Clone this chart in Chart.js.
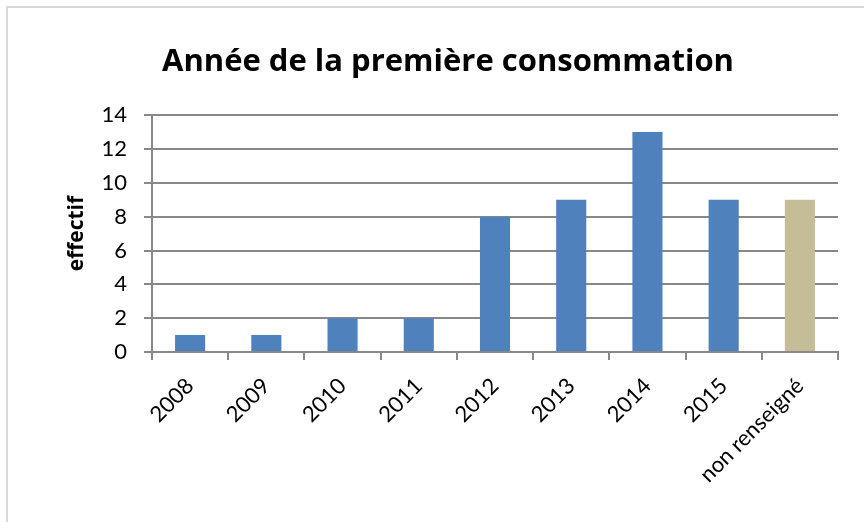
<!DOCTYPE html>
<html>
<head>
<meta charset="utf-8">
<script src="https://cdn.jsdelivr.net/npm/chart.js@4"></script>
<style>
  html, body { margin: 0; padding: 0; background: #fff; }
  #wrap { position: relative; width: 864px; height: 522px; }
</style>
</head>
<body>
<div id="wrap"><canvas id="c" width="864" height="522"></canvas></div>
<script>
const chartTitle = "Année de la première consommation";
const yAxisTitle = "effectif";
const categories = ["2008", "2009", "2010", "2011", "2012", "2013", "2014", "2015", "non renseigné"];
const values = [1, 1, 2, 2, 8, 9, 13, 9, 9];
const barColors = ["#4f81bd", "#4f81bd", "#4f81bd", "#4f81bd", "#4f81bd", "#4f81bd", "#4f81bd", "#4f81bd", "#c4bd97"];
const yMin = 0, yMax = 14, yStep = 2;

const FONT = "Lato, 'Open Sans', sans-serif";
const BOLDFONT = "'Open Sans', Lato, sans-serif";
const GRID = "#888888";

const frame = {
  id: 'frame',
  beforeDraw(chart) {
    const ctx = chart.ctx;
    ctx.save();
    ctx.fillStyle = '#ffffff';
    ctx.fillRect(0, 0, chart.width, chart.height);
    ctx.strokeStyle = '#d9d9d9';
    ctx.lineWidth = 2;
    ctx.beginPath();
    ctx.moveTo(7, chart.height);
    ctx.lineTo(7, 7);
    ctx.lineTo(chart.width, 7);
    ctx.stroke();
    ctx.restore();
  }
};

new Chart(document.getElementById('c'), {
  type: 'bar',
  data: {
    labels: categories,
    datasets: [{
      data: values,
      backgroundColor: barColors,
      borderColor: barColors,
      borderWidth: 0,
      categoryPercentage: 1,
      barPercentage: 0.395
    }]
  },
  plugins: [frame],
  options: {
    responsive: false,
    animation: false,
    layout: { padding: { left: 32, right: 0, top: 0, bottom: 0 } },
    plugins: {
      legend: { display: false },
      tooltip: { enabled: false },
      title: {
        display: true,
        text: chartTitle,
        color: '#000',
        font: { family: BOLDFONT, size: 31, weight: 'bold', lineHeight: 1.2 },
        padding: { top: 44, bottom: 34 }
      }
    },
    scales: {
      x: {
        afterFit(scale) { scale.height = 170; },
        grid: {
          display: true,
          drawOnChartArea: false,
          drawTicks: true,
          tickLength: 8,
          color: GRID,
          lineWidth: 2,
          offset: true
        },
        border: { display: true, color: GRID, width: 2 },
        ticks: {
          color: '#000',
          font: { family: FONT, size: 22 },
          minRotation: 45,
          maxRotation: 45,
          autoSkip: false,
          padding: 13
        }
      },
      y: {
        min: yMin,
        max: yMax,
        afterFit(scale) { scale.width = 120; },
        grid: {
          color: GRID,
          lineWidth: 2,
          drawTicks: true,
          tickLength: 8
        },
        border: { display: true, color: GRID, width: 2 },
        ticks: {
          stepSize: yStep,
          color: '#000',
          font: { family: FONT, size: 22 },
          padding: 17
        },
        title: {
          display: true,
          text: yAxisTitle,
          color: '#000',
          font: { family: BOLDFONT, size: 21, weight: 'bold', lineHeight: 1.2 },
          padding: { top: 32, bottom: 0 }
        }
      },
      yRightSpace: {
        type: 'linear',
        position: 'right',
        min: yMin,
        max: yMax,
        afterFit(scale) { scale.width = 26; },
        grid: { drawOnChartArea: false, drawTicks: false },
        border: { display: false },
        ticks: { display: false }
      }
    }
  }
});
</script>
</body>
</html>
